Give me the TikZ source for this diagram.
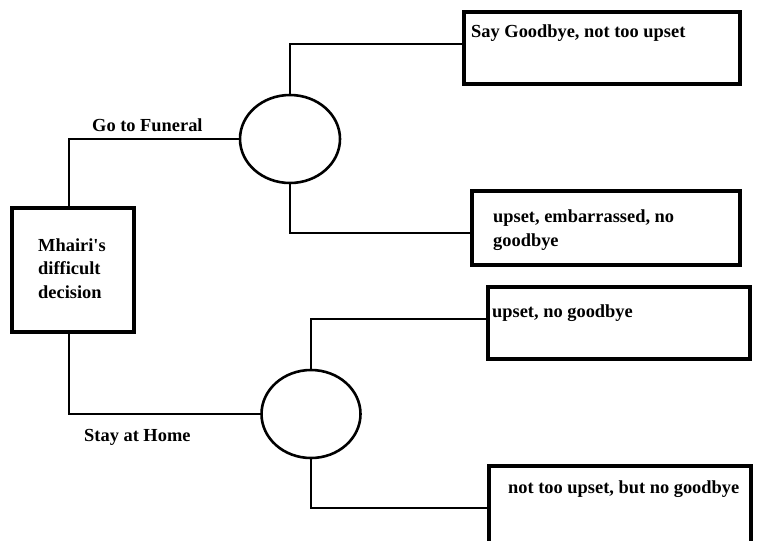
\documentclass[tikz,border=0pt]{standalone}
\usepackage{fontspec}
\setmainfont{Liberation Serif}
\usetikzlibrary{shapes.geometric}
\begin{document}
\begin{tikzpicture}[x=1pt,y=-1pt,
  box/.style={draw, line width=3.2pt, inner sep=0pt},
  chance/.style={draw, ellipse, line width=2.6pt, inner sep=0pt},
  link/.style={line width=2.8pt},
  lbl/.style={inner sep=0pt, anchor=base west, align=left,
    font=\fontsize{18.4}{23.5}\selectfont\bfseries}]
\useasboundingbox (0,0) rectangle (766,541);

% decision node (multi-line labels sit on their last baseline)
\node[box, minimum width=122pt, minimum height=124pt] (dec) at (73,270) {};
\node[lbl] (dectxt) at (38,298) {Mhairi\textquotesingle s\\difficult\\decision};

% chance nodes
\node[chance, minimum width=100pt, minimum height=88pt] (c1) at (290,139) {};
\node[chance, minimum width=99pt, minimum height=88pt] (c2) at (311,414) {};

% outcome boxes
\node[box, minimum width=276pt, minimum height=72pt] (o1) at (602,48) {};
\node[box, minimum width=268pt, minimum height=74pt] (o2) at (606,228) {};
\node[box, minimum width=262pt, minimum height=72pt] (o3) at (619,323) {};
\node[box, minimum width=262pt, minimum height=80pt] (o4) at (620,506) {};

% outcome texts
\node[lbl] (t1) at (471,37) {Say Goodbye, not too upset};
\node[lbl] (t2) at (493,246) {upset, embarrassed, no\\goodbye};
\node[lbl] (t3) at (492,317) {upset, no goodbye};
\node[lbl] (t4) at (508,493) {not too upset, but no goodbye};

% branch labels
\node[lbl] (go) at (92,131) {Go to Funeral};
\node[lbl] (stay) at (84,441) {Stay at Home};

% connectors
\draw[link] ([xshift=-4pt]dec.north) |- (c1.west);
\draw[link] ([xshift=-4pt]dec.south) |- (c2.west);
\draw[link] (c1.north) |- ([yshift=4pt]o1.west);
\draw[link] (c1.south) |- ([yshift=-5pt]o2.west);
\draw[link] (c2.north) |- ([yshift=4pt]o3.west);
\draw[link] (c2.south) |- ([yshift=-2pt]o4.west);
\end{tikzpicture}
\end{document}
